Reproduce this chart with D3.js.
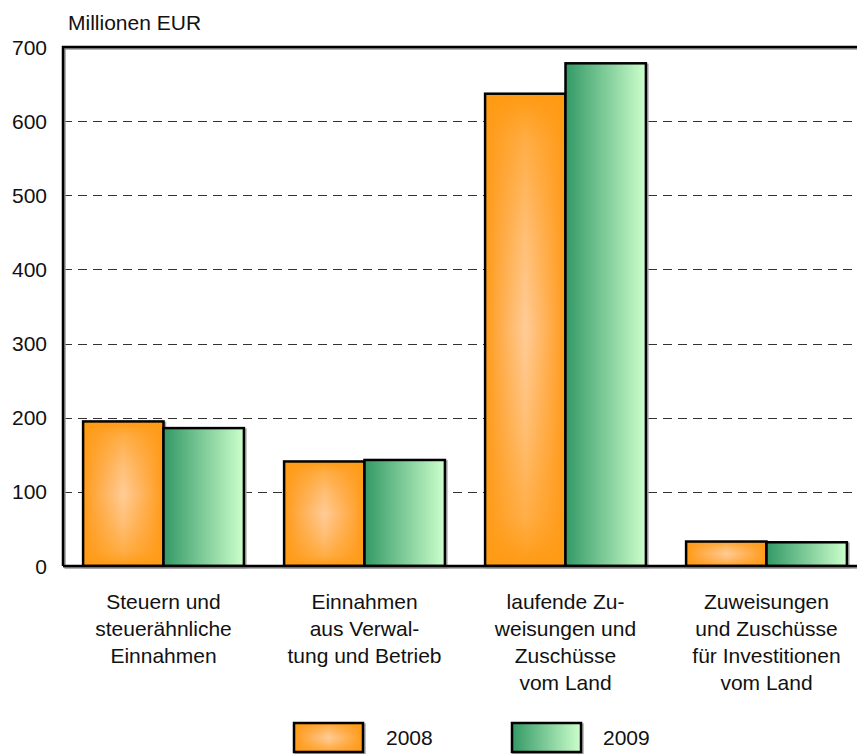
<!DOCTYPE html>
<html>
<head>
<meta charset="utf-8">
<script src="https://cdn.jsdelivr.net/npm/d3@7"></script>
<style>
  body { margin: 0; background: #fff; }
  svg { display: block; font-family: "Liberation Sans", Arial, sans-serif; }
</style>
</head>
<body>
<svg id="chart" width="857" height="754"></svg>
<script>
// categories, each as the lines of its label
var categories = [
  ["Steuern und", "steuerähnliche", "Einnahmen"],
  ["Einnahmen", "aus Verwal-", "tung und Betrieb"],
  ["laufende Zu-", "weisungen und", "Zuschüsse", "vom Land"],
  ["Zuweisungen", "und Zuschüsse", "für Investitionen", "vom Land"]
];
var years = ["2008", "2009"];
var values2008 = [195, 141, 637, 33];
var values2009 = [186, 143, 678, 32];
var yTicks = [0, 100, 200, 300, 400, 500, 600, 700];

var svg = d3.select("#chart");
// plot area (right edge runs past the window, as in the original)
var plotLeft = 63, plotRight = 867, plotTop = 47, plotBottom = 566;

var defs = svg.append("defs");
// 2008: light centre, orange edges (rectangular box gradient approximated)
var gH = defs.append("linearGradient").attr("id", "orH").attr("x1", 0).attr("x2", 1).attr("y1", 0).attr("y2", 0);
gH.append("stop").attr("offset", "0%").attr("stop-color", "#ff9a12");
gH.append("stop").attr("offset", "12%").attr("stop-color", "#ffa63a");
gH.append("stop").attr("offset", "50%").attr("stop-color", "#ffcc98");
gH.append("stop").attr("offset", "88%").attr("stop-color", "#ffa63a");
gH.append("stop").attr("offset", "100%").attr("stop-color", "#ff9a12");
var gV = defs.append("linearGradient").attr("id", "orV").attr("x1", 0).attr("x2", 0).attr("y1", 0).attr("y2", 1);
[[0, 1], [0.1, 0.6], [0.3, 0.25], [0.5, 0], [0.7, 0.25], [0.9, 0.6], [1, 1]].forEach(function(s){
  gV.append("stop").attr("offset", s[0]).attr("stop-color", "#ff9a12").attr("stop-opacity", s[1]);
});
// 2009: dark green to pale green from left to right
var gG = defs.append("linearGradient").attr("id", "grn").attr("x1", 0).attr("x2", 1).attr("y1", 0).attr("y2", 0);
gG.append("stop").attr("offset", "0%").attr("stop-color", "#339966");
gG.append("stop").attr("offset", "100%").attr("stop-color", "#ccffcc");

var x = d3.scaleBand().domain(d3.range(categories.length)).range([plotLeft, plotRight]).paddingInner(0.2).paddingOuter(0.1);
var x1 = d3.scaleBand().domain(years).range([0, x.bandwidth()]);
var y = d3.scaleLinear().domain([0, 700]).range([plotBottom, plotTop]);

// dashed grid
svg.append("g").selectAll("line")
  .data(yTicks.filter(function(d){ return d > 0 && d < 700; }))
  .enter().append("line")
  .attr("x1", plotLeft).attr("x2", 857)
  .attr("y1", function(d){ return Math.round(y(d)) + 0.5; })
  .attr("y2", function(d){ return Math.round(y(d)) + 0.5; })
  .attr("stroke", "#333").attr("stroke-width", 1.2).attr("stroke-dasharray", "9,6");

// tick labels
svg.append("g").selectAll("text")
  .data(yTicks).enter().append("text")
  .attr("x", 47).attr("y", function(d){ return y(d); })
  .attr("dy", "0.36em").attr("text-anchor", "end")
  .attr("font-size", 21).attr("fill", "#111")
  .text(function(d){ return d; });

svg.append("text").attr("x", 68).attr("y", 30).attr("font-size", 21).attr("fill", "#111").text("Millionen EUR");

// bars
var series = [
  {year: "2008", values: values2008},
  {year: "2009", values: values2009}
];
function drawBar(g, bx, by, bw, bh, year) {
  g.append("rect").attr("x", bx + 1.5).attr("y", by + 1.5).attr("width", bw).attr("height", bh)
    .attr("fill", "none").attr("stroke", "#aaa").attr("stroke-width", 2.5);
  if (year === "2008") {
    g.append("rect").attr("x", bx).attr("y", by).attr("width", bw).attr("height", bh).attr("fill", "url(#orH)");
    g.append("rect").attr("x", bx).attr("y", by).attr("width", bw).attr("height", bh).attr("fill", "url(#orV)");
  } else {
    g.append("rect").attr("x", bx).attr("y", by).attr("width", bw).attr("height", bh).attr("fill", "url(#grn)");
  }
  g.append("rect").attr("x", bx).attr("y", by).attr("width", bw).attr("height", bh)
    .attr("fill", "none").attr("stroke", "#000").attr("stroke-width", 2.5);
}
var barsG = svg.append("g");
categories.forEach(function(c, i){
  series.forEach(function(s){
    var bx = x(i) + x1(s.year);
    var by = y(s.values[i]);
    drawBar(barsG, bx, by, x1.bandwidth(), plotBottom - by, s.year);
  });
});

// frame (left, top, bottom)
var frame = svg.append("g");
frame.append("path").attr("d", "M" + (plotLeft + 1.5) + "," + (plotBottom + 1.5) + "V" + (plotTop + 1.5) + "H870M" + (plotLeft + 1.5) + "," + (plotBottom + 1.5) + "H870")
  .attr("fill", "none").attr("stroke", "#999").attr("stroke-width", 2.5);
frame.append("path").attr("d", "M" + plotLeft + "," + plotBottom + "V" + plotTop + "H870M" + plotLeft + "," + plotBottom + "H870")
  .attr("fill", "none").attr("stroke", "#000").attr("stroke-width", 2.5);

// category labels
var labels = svg.append("g").selectAll("text")
  .data(categories).enter().append("text")
  .attr("text-anchor", "middle").attr("font-size", 21).attr("fill", "#111");
labels.each(function(lines, i){
  var t = d3.select(this);
  lines.forEach(function(l, k){
    t.append("tspan").attr("x", x(i) + x.bandwidth() / 2).attr("y", 609 + k * 27).text(l);
  });
});

// legend
var legend = [
  {year: "2008", bx: 294, tx: 386},
  {year: "2009", bx: 512, tx: 603}
];
legend.forEach(function(d){
  var g = svg.append("g");
  drawBar(g, d.bx, 723, 69, 29, d.year);
  g.append("text").attr("x", d.tx).attr("y", 745).attr("font-size", 21).attr("fill", "#111").text(d.year);
});
</script>
</body>
</html>
